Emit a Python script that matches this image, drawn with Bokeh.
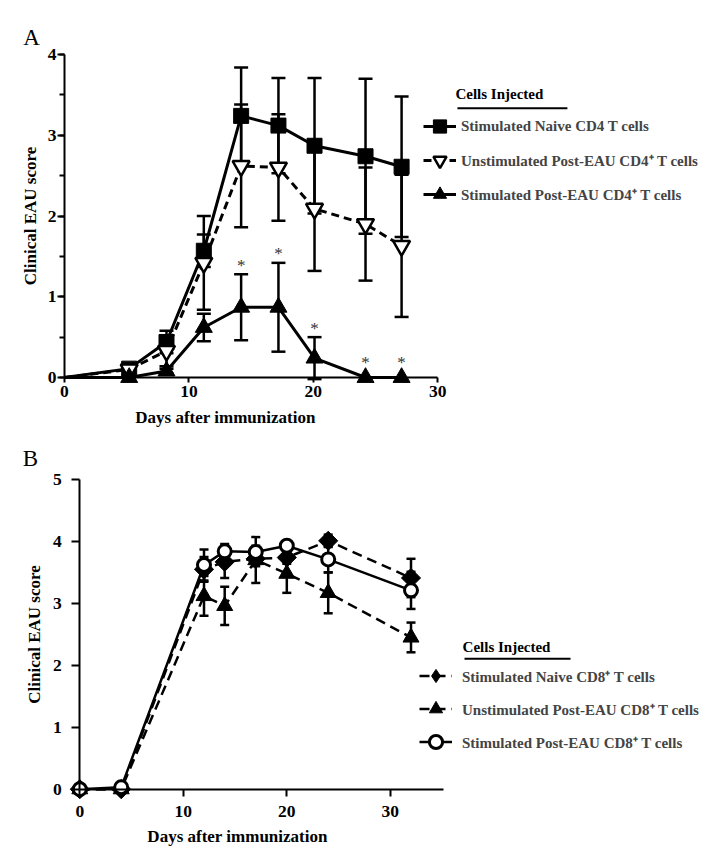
import numpy as np
from bokeh.plotting import figure
from bokeh.models import (ColumnDataSource, Whisker, TeeHead, Legend, LegendItem,
                          Label, Range1d, FixedTicker, SingleIntervalTicker)
from bokeh.layouts import column
from bokeh.embed import file_html
from bokeh.resources import INLINE
from bokeh.core.properties import value

# ---------------- Panel A data ----------------
a_days = [0, 5.2, 8.2, 11.2, 14.2, 17.2, 20.1, 24.2, 27.1]
a_naive_cd4 = [0, 0.11, 0.44, 1.57, 3.24, 3.12, 2.87, 2.74, 2.61]
a_naive_cd4_err = [0, 0.04, 0.14, 0.20, 0.60, 0.59, 0.84, 0.96, 0.87]
a_unstim_cd4 = [0, 0.10, 0.33, 1.42, 2.62, 2.60, 2.09, 1.90, 1.63]
a_unstim_cd4_err = [0, 0.05, 0.19, 0.58, 0.76, 0.66, 0.77, 0.70, 0.88]
a_stim_cd4 = [0, 0, 0.08, 0.62, 0.87, 0.87, 0.24, 0, 0]
a_stim_cd4_err = [0, 0, 0.03, 0.17, 0.41, 0.55, 0.26, 0, 0]
a_star_days = [14.2, 17.2, 20.1, 24.2, 27.1]
a_x_ticks = [0, 10, 20, 30]
a_labels = ["Stimulated Naive CD4 T cells",
            "Unstimulated Post-EAU CD4\u207a T cells",
            "Stimulated Post-EAU CD4\u207a T cells"]

# ---------------- Panel B data ----------------
b_days = [0, 4, 12, 14, 17, 20, 24, 32]
b_naive_cd8 = [0, 0, 3.55, 3.67, 3.72, 3.74, 4.01, 3.41]
b_naive_cd8_err = [0, 0, 0.20, 0.26, 0.12, 0.10, 0.10, 0.31]
b_unstim_cd8 = [0, 0, 3.12, 2.96, 3.70, 3.48, 3.17, 2.45]
b_unstim_cd8_err = [0, 0, 0.32, 0.31, 0.37, 0.31, 0.33, 0.24]
b_stim_cd8 = [0, 0.03, 3.62, 3.84, 3.83, 3.93, 3.71, 3.21]
b_stim_cd8_err = [0, 0, 0.25, 0.12, 0.10, 0.05, 0.21, 0.30]
b_x_ticks = [0, 10, 20, 30]
b_y_ticks = [0, 1, 2, 3, 4, 5]
b_labels = ["Stimulated Naive CD8\u207a T cells",
            "Unstimulated Post-EAU CD8\u207a T cells",
            "Stimulated Post-EAU CD8\u207a T cells"]

FONT = "Liberation Serif"


def style_axes(p):
    for ax in (p.xaxis[0], p.yaxis[0]):
        ax.fixed_location = 0
        ax.axis_line_width = 2
        ax.axis_line_color = "black"
        ax.major_tick_line_width = 2
        ax.minor_tick_line_width = 2
        ax.major_tick_in = 0
        ax.minor_tick_in = 0
        ax.major_label_text_font = FONT
        ax.major_label_text_font_style = "bold"
        ax.major_label_text_font_size = "17.5px"
        ax.major_label_text_color = "black"
        ax.axis_label_text_font = FONT
        ax.axis_label_text_font_style = "bold"
        ax.axis_label_text_font_size = "17px"
        ax.axis_label_text_color = "black"
    p.grid.visible = False
    p.outline_line_color = None


def add_whisker(p, x, y, e, cap):
    x = np.array(x, float); y = np.array(y, float); e = np.array(e, float)
    m = e > 0
    src = ColumnDataSource(dict(x=x[m], lo=(y - e)[m], hi=(y + e)[m]))
    w = Whisker(source=src, base="x", lower="lo", upper="hi", line_width=2.5,
                line_color="black", level="underlay",
                upper_head=TeeHead(size=cap, line_width=2.5, line_color="black"),
                lower_head=TeeHead(size=cap, line_width=2.5, line_color="black"))
    p.add_layout(w)


def text_label(p, x, y, text, size, bold=True, align="center"):
    p.add_layout(Label(x=x, y=y, text=text, text_font=FONT,
                       text_font_style="bold" if bold else "normal",
                       text_font_size=size, text_align=align, text_baseline="middle",
                       text_color="black"))


# ================= Panel A =================
pa = figure(width=700, height=432, output_backend="svg", toolbar_location=None,
            x_range=Range1d(-5.145, 51.13), y_range=Range1d(-0.681, 4.669),
            min_border=0)
style_axes(pa)
pa.xaxis.bounds = (0, 30)
pa.xaxis.ticker = FixedTicker(ticks=a_x_ticks)
pa.xaxis.major_tick_out = 5
pa.xaxis.major_label_standoff = 3
pa.yaxis.bounds = (0, 4)
pa.yaxis.ticker = SingleIntervalTicker(interval=1, num_minor_ticks=2)
pa.yaxis.major_tick_out = 7
pa.yaxis.minor_tick_out = 5
pa.yaxis.major_label_standoff = 1
pa.yaxis.axis_label = "Clinical EAU score"
pa.yaxis.axis_label_standoff = 5

add_whisker(pa, a_days, a_naive_cd4, a_naive_cd4_err, 14)
add_whisker(pa, a_days, a_unstim_cd4, a_unstim_cd4_err, 14)
add_whisker(pa, a_days, a_stim_cd4, a_stim_cd4_err, 14)

la1 = pa.line(a_days, a_naive_cd4, line_width=3, color="black")
sa1 = pa.scatter(a_days[1:], a_naive_cd4[1:], marker="square", size=15, color="black")
la2 = pa.line(a_days, a_unstim_cd4, line_width=3, color="black", line_dash="8 5")
sa2 = pa.scatter(a_days[1:], a_unstim_cd4[1:], marker="inverted_triangle", size=17,
                 fill_color="white", line_color="black", line_width=2.5)
la3 = pa.line(a_days, a_stim_cd4, line_width=3, color="black")
sa3 = pa.scatter(a_days[1:], a_stim_cd4[1:], marker="triangle", size=17, color="black")

star_idx = [a_days.index(d) for d in a_star_days]
star_y = np.maximum(np.array(a_stim_cd4)[star_idx] + np.array(a_stim_cd4_err)[star_idx] + 0.11, 0.19)
pa.text(x=a_star_days, y=star_y, text=["*"] * len(a_star_days), text_font=value(FONT),
        text_font_size="17px", text_align="center", text_baseline="middle", text_color="#333333")

leg_a = Legend(items=[LegendItem(label=a_labels[0], renderers=[la1, sa1]),
                      LegendItem(label=a_labels[1], renderers=[la2, sa2]),
                      LegendItem(label=a_labels[2], renderers=[la3, sa3])],
               location=(423, 221), padding=0, margin=0, spacing=0,
               glyph_width=33, glyph_height=34, label_height=34, label_standoff=5,
               border_line_color=None, background_fill_alpha=0,
               label_text_font=FONT, label_text_font_style="bold", label_text_font_size="15px")
pa.add_layout(leg_a)
text_label(pa, 31.43, 3.505, "Cells Injected", "15px", align="left")
pa.segment(x0=[31.59], y0=[3.335], x1=[40.43], y1=[3.335], line_width=2, color="black")
text_label(pa, 12.94, -0.495, "Days after immunization", "17px")
text_label(pa, -2.65, 4.21, "A", "23px", bold=False)

# ================= Panel B =================
pb = figure(width=700, height=424, output_backend="svg", toolbar_location=None,
            x_range=Range1d(-7.662, 59.97), y_range=Range1d(-1.087, 5.759),
            min_border=0)
style_axes(pb)
pb.xaxis.bounds = (0, 35.1)
pb.xaxis.ticker = FixedTicker(ticks=b_x_ticks)
pb.xaxis.major_tick_out = 7
pb.xaxis.major_label_standoff = 10
pb.yaxis.bounds = (0, 5)
pb.yaxis.ticker = FixedTicker(ticks=b_y_ticks)
pb.yaxis.major_tick_out = 8
pb.yaxis.major_label_standoff = 10
pb.yaxis.axis_label = "Clinical EAU score"
pb.yaxis.axis_label_standoff = 6

add_whisker(pb, b_days, b_naive_cd8, b_naive_cd8_err, 9)
add_whisker(pb, b_days, b_unstim_cd8, b_unstim_cd8_err, 9)
add_whisker(pb, b_days, b_stim_cd8, b_stim_cd8_err, 9)

lb1 = pb.line(b_days, b_naive_cd8, line_width=2.5, color="black", line_dash="10 6")
# plain diamond markers (used as the legend key) sit underneath the rotated squares
kb1 = pb.scatter(b_days, b_naive_cd8, marker="diamond", size=12, color="black")
sb1 = pb.scatter(b_days, b_naive_cd8, marker="square", angle=np.pi / 4, size=13.5, color="black")
lb2 = pb.line(b_days, b_unstim_cd8, line_width=2.5, color="black", line_dash="10 6")
sb2 = pb.scatter(b_days, b_unstim_cd8, marker="triangle", size=16, color="black")
lb3 = pb.line(b_days, b_stim_cd8, line_width=2.5, color="black")
sb3 = pb.scatter(b_days, b_stim_cd8, marker="circle", size=13, fill_color="white",
                 line_color="black", line_width=3)

leg_b = Legend(items=[LegendItem(label=b_labels[0], renderers=[lb1, kb1]),
                      LegendItem(label=b_labels[1], renderers=[lb2, sb2]),
                      LegendItem(label=b_labels[2], renderers=[lb3, sb3])],
               location=(419, 98), padding=0, margin=0, spacing=0,
               glyph_width=33, glyph_height=33, label_height=33, label_standoff=10,
               border_line_color=None, background_fill_alpha=0,
               label_text_font=FONT, label_text_font_style="bold", label_text_font_size="15px")
pb.add_layout(leg_b)
text_label(pb, 36.98, 2.303, "Cells Injected", "15px", align="left")
pb.segment(x0=[37.17], y0=[2.105], x1=[47.41], y1=[2.105], line_width=2, color="black")
text_label(pb, 15.24, -0.764, "Days after immunization", "17px")
text_label(pb, -4.76, 5.34, "B", "23px", bold=False)

layout = column(pa, pb, spacing=0)
open("out.html", "w").write(file_html(layout, INLINE))
